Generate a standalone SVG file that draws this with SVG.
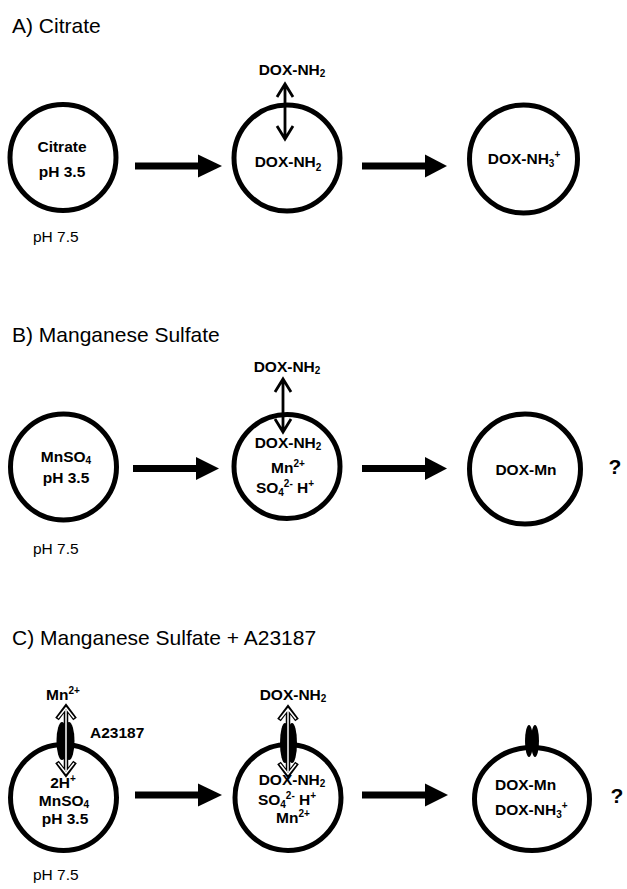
<svg xmlns="http://www.w3.org/2000/svg" width="627" height="889" viewBox="0 0 627 889">
<style>
.title{font-family:"Liberation Sans",Arial,sans-serif;font-size:21px;fill:#000}
.ph{font-family:"Liberation Sans",Arial,sans-serif;font-size:15.5px;fill:#000}
.lbl{font-family:"Liberation Sans",Arial,sans-serif;font-size:15.5px;font-weight:bold;fill:#000}
.c{text-anchor:middle}
.q{font-family:"Liberation Sans",Arial,sans-serif;font-size:21px;font-weight:bold;fill:#000;text-anchor:middle}
.ves{fill:#fff;stroke:#000;stroke-width:5}
.shaft{stroke:#000;stroke-width:7;fill:none}
.head{fill:#000}
.dbl{stroke:#000;stroke-width:2.8;fill:none;stroke-linejoin:miter}
.dblo{stroke:#000;stroke-width:4.5;fill:none}
.dbli{stroke:#fff;stroke-width:1.5;fill:none}
.sm{font-size:10px}
</style>
<rect width="627" height="889" fill="#fff"/>

<text class="title" x="12" y="33">A) Citrate</text>
<text class="title" x="12" y="342">B) Manganese Sulfate</text>
<text class="title" x="12" y="645">C) Manganese Sulfate + A23187</text>

<text class="ph" x="33" y="242">pH 7.5</text>
<text class="ph" x="33" y="554">pH 7.5</text>
<text class="ph" x="33" y="880">pH 7.5</text>

<!-- Section A -->
<g id="a1">
<circle class="ves" cx="63" cy="157.5" r="53"/>
<text class="lbl c" x="62" y="152">Citrate</text>
<text class="lbl c" x="62" y="177">pH 3.5</text>
</g>
<g id="a2">
<circle class="ves" cx="287" cy="158" r="53"/>
<text class="lbl c" x="288" y="167">DOX-NH<tspan class="sm" dy="4">2</tspan></text>
<text class="lbl c" x="292" y="75">DOX-NH<tspan class="sm" dy="2">2</tspan></text>
</g>
<g id="a3">
<circle class="ves" cx="523.5" cy="159" r="54"/>
<text class="lbl c" x="524" y="164">DOX-NH<tspan class="sm" dy="3">3</tspan><tspan class="sm" dy="-9">+</tspan></text>
</g>

<!-- Section B -->
<g id="b1">
<circle class="ves" cx="63.5" cy="467" r="53"/>
<text class="lbl c" x="66" y="462">MnSO<tspan class="sm" dy="2">4</tspan></text>
<text class="lbl c" x="66" y="483">pH 3.5</text>
</g>
<g id="b2">
<ellipse class="ves" cx="287" cy="466.5" rx="53" ry="52"/>
<text class="lbl c" x="287" y="372">DOX-NH<tspan class="sm" dy="2">2</tspan></text>
<text class="lbl c" x="288" y="448">DOX-NH<tspan class="sm" dy="2">2</tspan></text>
<text class="lbl c" x="288" y="473">Mn<tspan class="sm" dy="-6">2+</tspan></text>
<text class="lbl c" x="285" y="493">SO<tspan class="sm" dy="3">4</tspan><tspan class="sm" dy="-9">2-</tspan><tspan dy="6"> H</tspan><tspan class="sm" dy="-6">+</tspan></text>
</g>
<g id="b3">
<ellipse class="ves" cx="525" cy="469" rx="55.5" ry="55"/>
<text class="lbl c" x="526" y="475">DOX-Mn</text>
</g>
<text class="q" x="615" y="474">?</text>

<!-- Section C -->
<g id="c1">
<circle class="ves" cx="63.5" cy="797.5" r="53"/>
<text class="lbl c" x="63" y="700">Mn<tspan class="sm" dy="-6">2+</tspan></text>
<text class="lbl" x="90" y="738">A23187</text>
<text class="lbl c" x="63" y="788">2H<tspan class="sm" dy="-6">+</tspan></text>
<text class="lbl c" x="64" y="806">MnSO<tspan class="sm" dy="2">4</tspan></text>
<text class="lbl c" x="65" y="824">pH 3.5</text>
</g>
<g id="c2">
<circle class="ves" cx="288" cy="797.5" r="53"/>
<text class="lbl c" x="293" y="700">DOX-NH<tspan class="sm" dy="2">2</tspan></text>
<text class="lbl c" x="292" y="785">DOX-NH<tspan class="sm" dy="2">2</tspan></text>
<text class="lbl c" x="287" y="805">SO<tspan class="sm" dy="3">4</tspan><tspan class="sm" dy="-9">2-</tspan><tspan dy="6"> H</tspan><tspan class="sm" dy="-6">+</tspan></text>
<text class="lbl c" x="293" y="823">Mn<tspan class="sm" dy="-6">2+</tspan></text>
</g>
<g id="c3">
<ellipse class="ves" cx="532" cy="799" rx="57.5" ry="51.5"/>
<ellipse cx="529" cy="741" rx="4" ry="16" fill="#000"/>
<ellipse cx="535" cy="741" rx="4" ry="16" fill="#000"/>
<text class="lbl" x="495" y="790">DOX-Mn</text>
<text class="lbl" x="495" y="815">DOX-NH<tspan class="sm" dy="3">3</tspan><tspan class="sm" dy="-9">+</tspan></text>
</g>
<text class="q" x="617" y="803">?</text>

<!-- ionophores with transport arrows -->
<g id="ionophore-c1">
<ellipse cx="62" cy="741" rx="5.5" ry="19" fill="#000"/>
<ellipse cx="69" cy="741" rx="5.5" ry="19" fill="#000"/>
<path class="dblo" d="M66,708 V773 M57,719 L66,707 L75,719 M57,762 L66,774 L75,762"/>
<path class="dbli" d="M66,710 V771 M58,718 L66,708 L74,718 M58,763 L66,773 L74,763"/>
</g>
<g id="ionophore-c2">
<ellipse cx="285" cy="743" rx="5" ry="20" fill="#000"/>
<ellipse cx="292" cy="743" rx="5" ry="20" fill="#000"/>
<path class="dblo" d="M288,708 V774 M279,720 L288,708 L297,720 M279,763 L288,775 L297,763"/>
<path class="dbli" d="M288,710 V772 M280,719 L288,709 L296,719 M280,764 L288,774 L296,764"/>
</g>

<g id="connectors">
<!-- A -->
<line class="shaft" x1="135" y1="166" x2="200" y2="166"/>
<polygon class="head" points="198,154.5 222,166 198,177.5"/>
<line class="shaft" x1="362" y1="166" x2="427" y2="166"/>
<polygon class="head" points="425,154.5 447,166 425,177.5"/>
<path class="dbl" d="M285,84 V139 M277,97 L285,84 L293,97 M277,126 L285,139 L293,126"/>
<!-- B -->
<line class="shaft" x1="133" y1="468.5" x2="198" y2="468.5"/>
<polygon class="head" points="196,457 219,468.5 196,480"/>
<line class="shaft" x1="362" y1="468.5" x2="427" y2="468.5"/>
<polygon class="head" points="425,457 447,468.5 425,480"/>
<path class="dbl" d="M283,379 V432 M275,392 L283,379 L291,392 M275,419 L283,432 L291,419"/>
<!-- C -->
<line class="shaft" x1="135" y1="795" x2="200" y2="795"/>
<polygon class="head" points="198,783.5 222,795 198,806.5"/>
<line class="shaft" x1="362" y1="795" x2="427" y2="795"/>
<polygon class="head" points="425,783.5 448,795 425,806.5"/>
</g>
</svg>
